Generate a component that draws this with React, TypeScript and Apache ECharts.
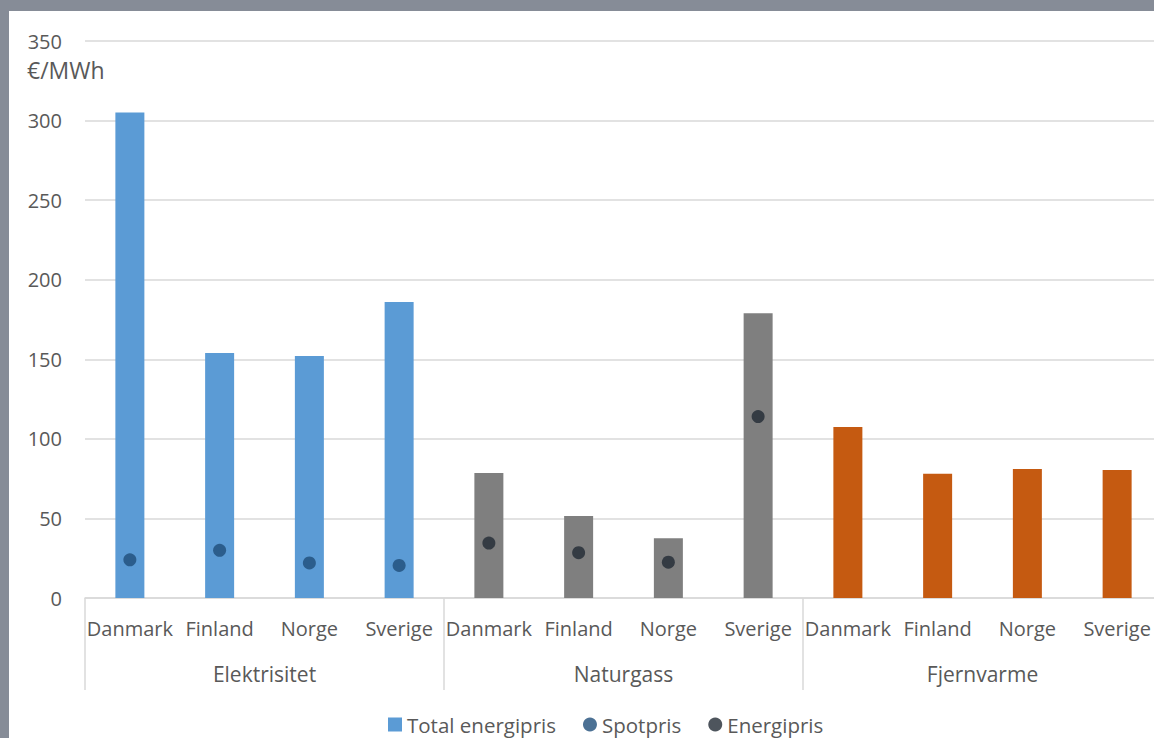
import React, { useEffect, useRef } from "react";
import * as echarts from "echarts";

const groups = ["Elektrisitet", "Naturgass", "Fjernvarme"];
const countries = ["Danmark", "Finland", "Norge", "Sverige"];
const totalEnergipris = [305, 154, 152, 186, 78.5, 51.5, 37.5, 179, 107.5, 78, 81, 80.5];
const spotpris: (number | string)[] = [24, 30, 22, 20.5, "-", "-", "-", "-", "-", "-", "-", "-"];
const energipris: (number | string)[] = ["-", "-", "-", "-", 34.5, 28.5, 22.5, 114, "-", "-", "-", "-"];
const groupColors = ["#5b9bd5", "#7f7f7f", "#c55a11"];
const yTicks = [0, 50, 100, 150, 200, 250, 300, 350];

const FONT = "'Open Sans', sans-serif";
const TEXT = "#595959";

export default function App() {
  const ref = useRef<HTMLDivElement>(null);
  useEffect(() => {
    if (!ref.current) return;
    const chart = echarts.init(ref.current, undefined, { renderer: "svg" });
    const cats: string[] = [];
    groups.forEach((g) => countries.forEach((c) => cats.push(g + "|" + c)));
    const barData = totalEnergipris.map((v, i) => ({
      value: v,
      itemStyle: { color: groupColors[Math.floor(i / countries.length)] },
    }));
    chart.setOption({
      animation: false,
      backgroundColor: "#ffffff",
      textStyle: { fontFamily: FONT },
      grid: {
        left: 85,
        width: 1077,
        top: 41,
        bottom: 140,
        containLabel: false,
        outerBoundsMode: "none",
      },
      graphic: [
        { type: "rect", left: 0, top: 0, shape: { width: 1154, height: 11 }, style: { fill: "#868c97" }, silent: true, z: 100 },
        { type: "rect", left: 0, top: 0, shape: { width: 9, height: 738 }, style: { fill: "#868c97" }, silent: true, z: 100 },
        { type: "text", left: 27, top: 58, style: { text: "€/MWh", fill: TEXT, font: `23px ${FONT}` } },
      ],
      legend: {
        left: 383,
        top: 709,
        itemWidth: 14,
        itemHeight: 14,
        itemGap: 27,
        textStyle: { color: TEXT, fontSize: 20.5, fontFamily: FONT },
        data: [
          { name: "Total energipris", icon: "rect" },
          { name: "Spotpris", icon: "circle" },
          { name: "Energipris", icon: "circle" },
        ],
      },
      xAxis: [
        {
          type: "category",
          data: cats,
          axisLine: { show: true, lineStyle: { color: "#d9d9d9", width: 1.5 } },
          axisTick: { show: false },
          axisLabel: {
            interval: 0,
            margin: 20,
            color: TEXT,
            fontSize: 20,
            fontFamily: FONT,
            formatter: (v: string) => v.split("|")[1],
          },
        },
        {
          type: "category",
          data: groups,
          position: "bottom",
          axisLine: { show: false },
          axisTick: { show: true, length: 92, lineStyle: { color: "#d9d9d9", width: 1.5 } },
          axisLabel: { interval: 0, margin: 65, color: TEXT, fontSize: 21, fontFamily: FONT },
        },
      ],
      yAxis: {
        type: "value",
        min: yTicks[0],
        max: yTicks[yTicks.length - 1],
        interval: 50,
        axisLine: { show: false },
        axisTick: { show: false },
        axisLabel: { margin: 23, color: TEXT, fontSize: 20, fontFamily: FONT },
        splitLine: { lineStyle: { color: "#d9d9d9", width: 1.5 } },
      },
      series: [
        {
          name: "Total energipris",
          type: "bar",
          xAxisIndex: 0,
          barWidth: 29,
          itemStyle: { color: groupColors[0] },
          data: barData,
        },
        {
          name: "Spotpris",
          type: "scatter",
          xAxisIndex: 0,
          symbol: "circle",
          symbolSize: 13,
          itemStyle: { color: "#1f4e79" },
          data: spotpris,
        },
        {
          name: "Energipris",
          type: "scatter",
          xAxisIndex: 0,
          symbol: "circle",
          symbolSize: 13,
          itemStyle: { color: "#222a35" },
          data: energipris,
        },
      ],
    });
    return () => chart.dispose();
  }, []);
  return (
    <div
      ref={ref}
      style={{ position: "fixed", left: 0, top: 0, width: 1154, height: 738 }}
    />
  );
}
